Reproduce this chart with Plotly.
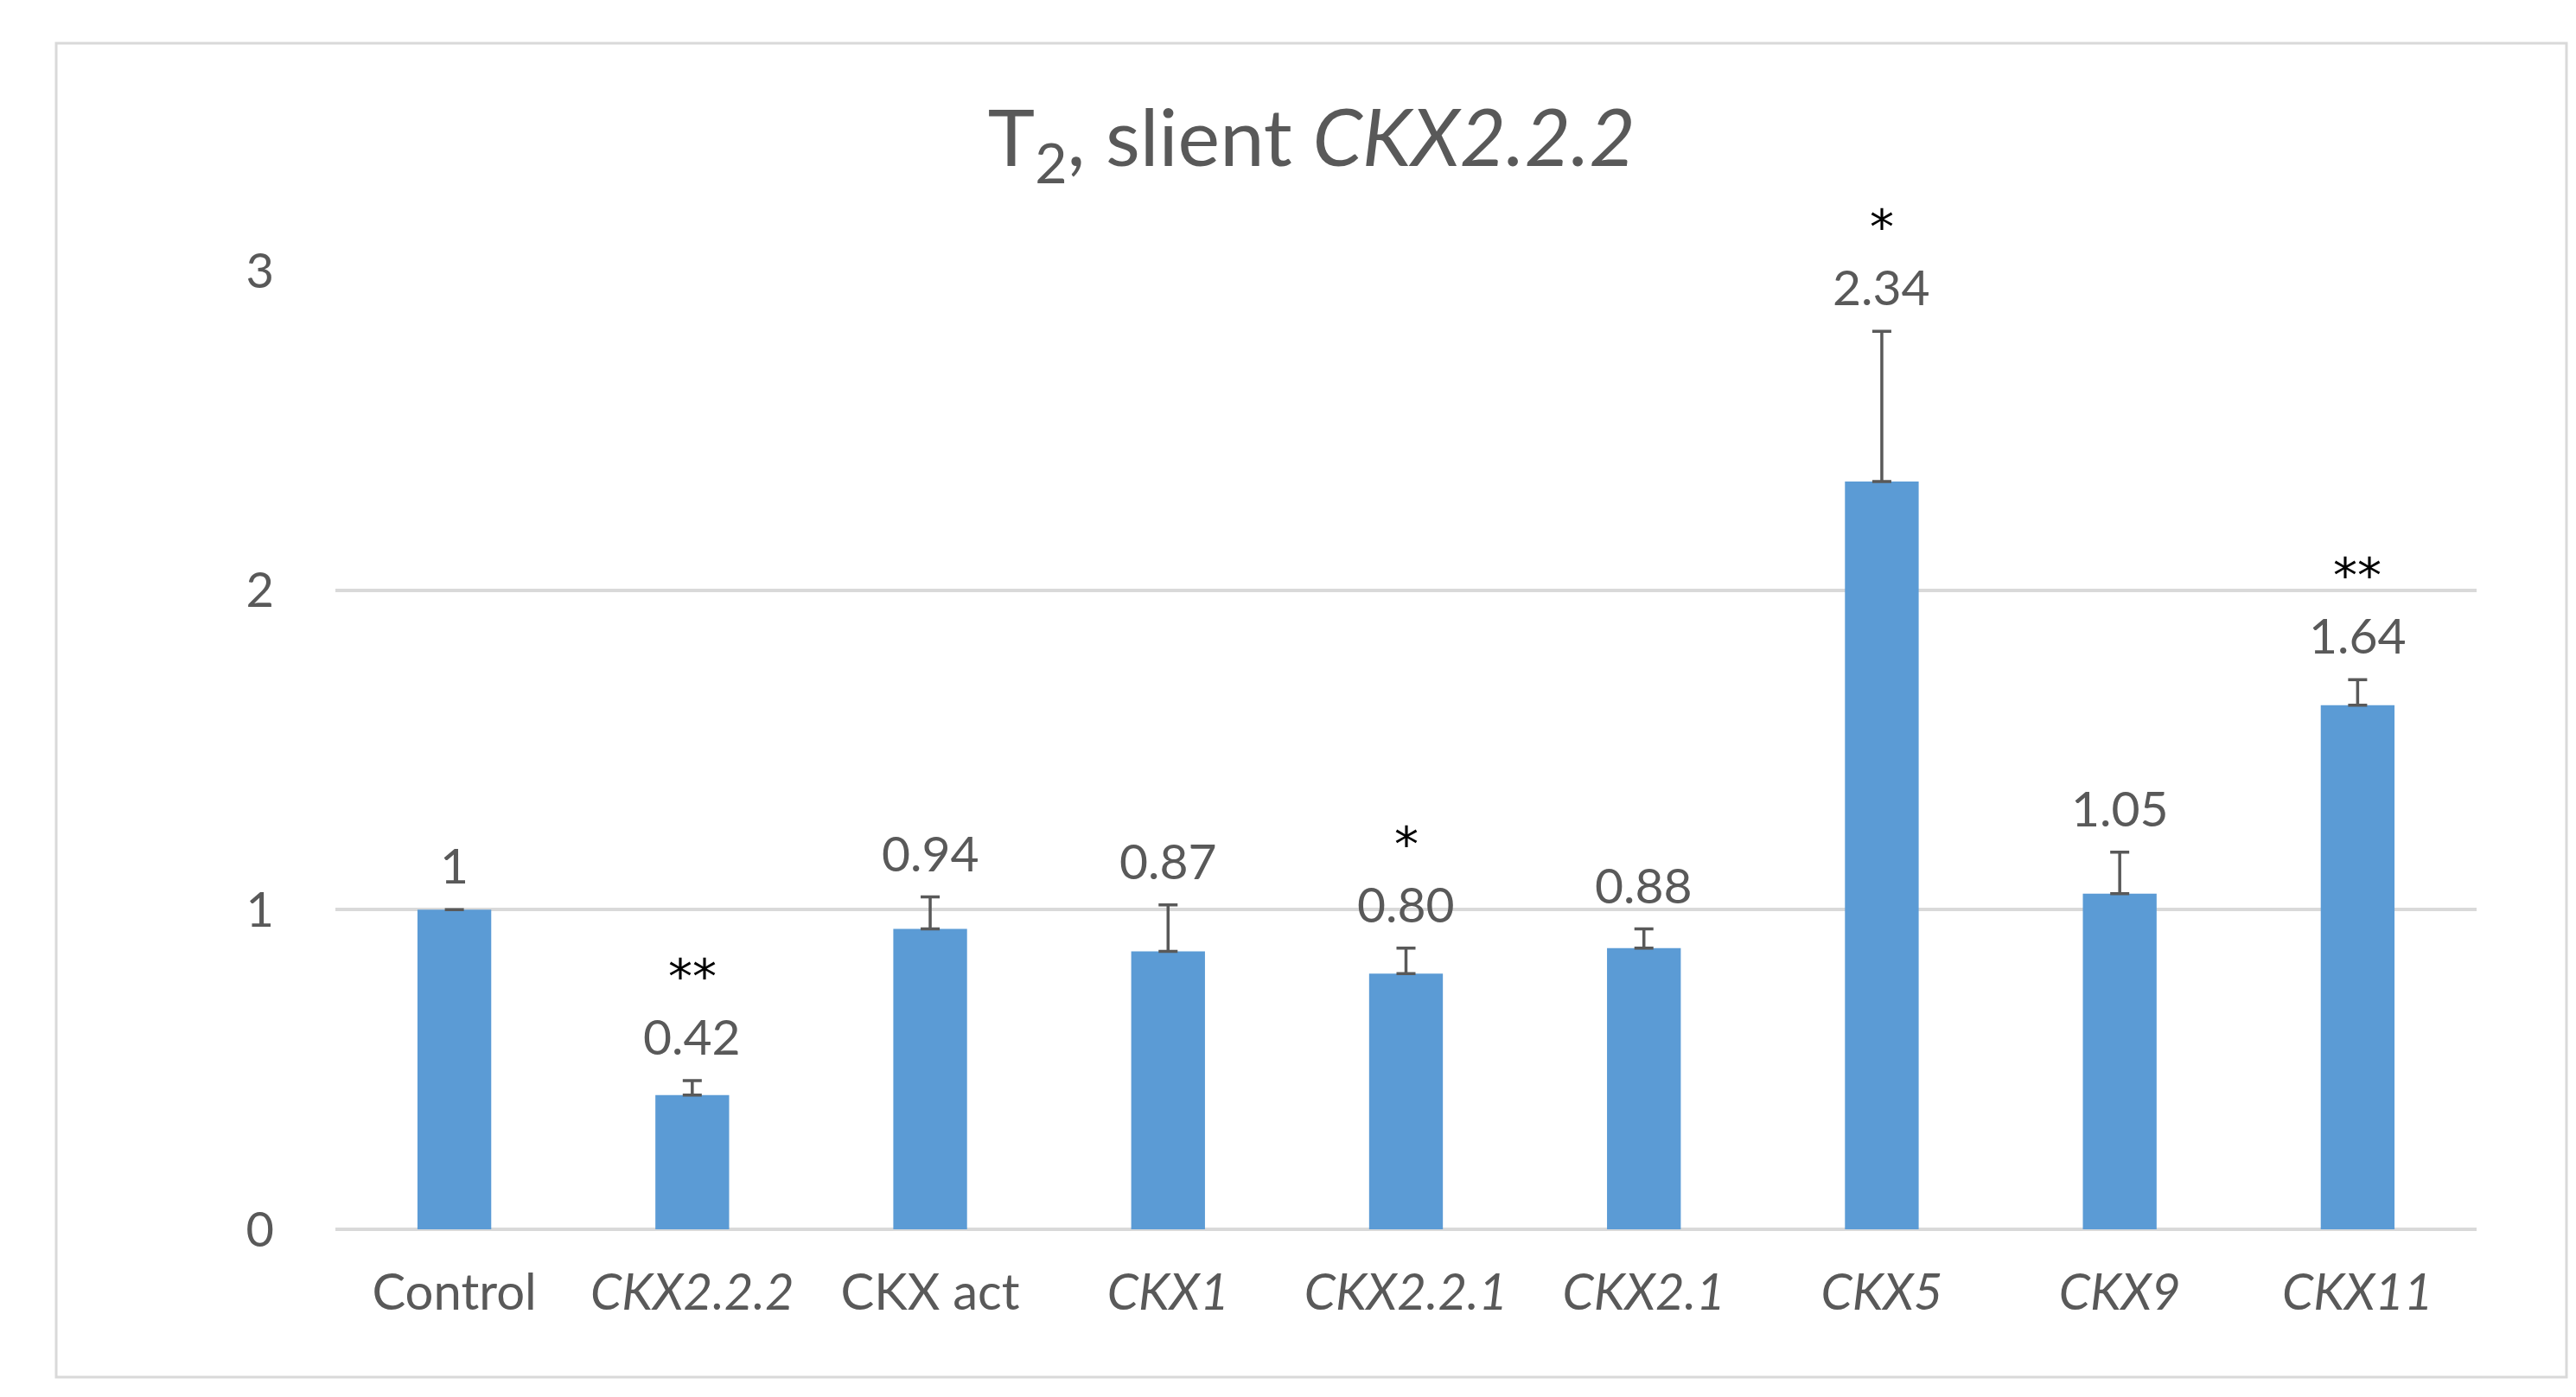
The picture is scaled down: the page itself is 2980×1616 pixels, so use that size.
import plotly.graph_objects as go

categories = ["Control", "CKX2.2.2", "CKX act", "CKX1", "CKX2.2.1", "CKX2.1", "CKX5", "CKX9", "CKX11"]
tick_labels = ["Control", "<i>CKX2.2.2</i>", "CKX act", "<i>CKX1</i>", "<i>CKX2.2.1</i>",
               "<i>CKX2.1</i>", "<i>CKX5</i>", "<i>CKX9</i>", "<i>CKX11</i>"]
values = [1.00, 0.42, 0.94, 0.87, 0.80, 0.88, 2.34, 1.05, 1.64]
value_labels = ["1", "0.42", "0.94", "0.87", "0.80", "0.88", "2.34", "1.05", "1.64"]
errors = [0.0, 0.045, 0.10, 0.145, 0.08, 0.06, 0.47, 0.13, 0.08]
significance = ["", "**", "", "", "*", "", "*", "", "**"]

FONT = "Lato"
GRAY = "#595959"

fig = go.Figure()
fig.add_trace(go.Bar(
    x=categories, y=values,
    marker=dict(color="#5B9BD5", line=dict(width=0)),
    error_y=dict(type="data", symmetric=False, array=errors,
                 arrayminus=[0] * len(errors), color=GRAY, thickness=3.5, width=11),
    hoverinfo="skip",
))

annotations = []
for c, v, e, lab, s in zip(categories, values, errors, value_labels, significance):
    annotations.append(dict(x=c, y=v + e, xref="x", yref="y", text=lab, showarrow=False,
                            yanchor="middle", yshift=52,
                            font=dict(family=FONT, size=57, color=GRAY)))
    if s:
        annotations.append(dict(x=c, y=v + e, xref="x", yref="y", text=s, showarrow=False,
                                yanchor="bottom", yshift=86,
                                font=dict(family="DejaVu Sans", size=56, color="#000000")))

fig.update_layout(
    width=2980, height=1616,
    paper_bgcolor="white", plot_bgcolor="white",
    margin=dict(l=380, r=123, t=305, b=202),
    showlegend=False,
    bargap=0.69,
    title=dict(text="T<sub>2</sub>, slient <i>CKX2.2.2</i>", x=0.5065, xanchor="center",
               y=1 - 152 / 1616, yanchor="middle", yref="container",
               font=dict(family=FONT, size=92, color=GRAY)),
    annotations=annotations,
    shapes=[dict(type="rect", xref="paper", yref="paper",
                 x0=(57 - 380) / (2980 - 380 - 123), x1=(2961 - 380) / (2980 - 380 - 123),
                 y0=-(1585 - 1414) / (1414 - 305), y1=1 + (305 - 42) / (1414 - 305),
                 line=dict(color="#D9D9D9", width=3), layer="below")],
    xaxis=dict(tickmode="array", tickvals=categories, ticktext=tick_labels,
               tickfont=dict(family=FONT, size=58, color=GRAY),
               showgrid=False, zeroline=False, showline=False, ticks="",
               ticklabelstandoff=34),
    yaxis=dict(range=[0, 3], tickvals=[0, 1, 2, 3], ticktext=["0", "1", "2", "3"],
               tickfont=dict(family=FONT, size=56, color=GRAY),
               showgrid=True, gridcolor="#D9D9D9", gridwidth=3.5,
               zeroline=True, zerolinecolor="#D9D9D9", zerolinewidth=3.5,
               showline=False, ticks="", ticklabelstandoff=70),
)

fig.write_html("out.html")
